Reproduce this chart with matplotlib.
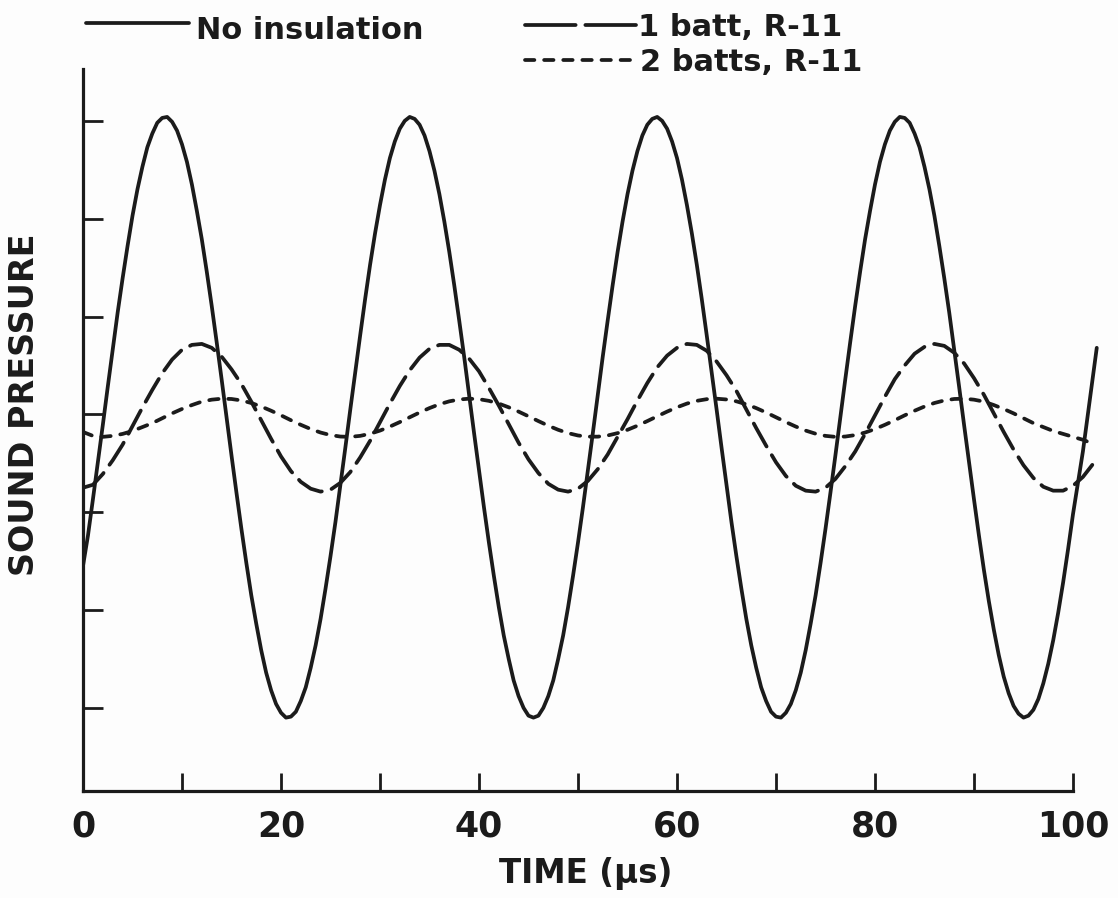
import matplotlib
matplotlib.use("Agg")
import matplotlib.pyplot as plt
from matplotlib.lines import Line2D
from matplotlib.ticker import FixedLocator, NullFormatter

# ---------------- data ----------------
# "No insulation" read every 0.5 us (large swing), the batt curves every 1 us
time_fine_us = [i * 0.5 for i in range(205)]
time_us = list(range(0, 103))

no_insulation = [
    -1.55, -1.24, -0.87, -0.49, -0.11, 0.28, 0.66, 1.04, 1.39, 1.72,
    2.03, 2.30, 2.53, 2.73, 2.87, 2.98, 3.03, 3.04, 2.99, 2.90,
    2.76, 2.58, 2.35, 2.08, 1.79, 1.46, 1.11, 0.74, 0.36, -0.03,
    -0.42, -0.80, -1.17, -1.52, -1.85, -2.14, -2.41, -2.64, -2.82, -2.96,
    -3.05, -3.10, -3.09, -3.04, -2.93, -2.79, -2.59, -2.36, -2.09, -1.78,
    -1.45, -1.10, -0.72, -0.34, 0.05, 0.43, 0.81, 1.18, 1.53, 1.85,
    2.14, 2.40, 2.62, 2.79, 2.92, 3.00, 3.04, 3.02, 2.96, 2.85,
    2.69, 2.49, 2.25, 1.97, 1.66, 1.32, 0.96, 0.59, 0.20, -0.19,
    -0.57, -0.95, -1.31, -1.65, -1.97, -2.26, -2.50, -2.72, -2.88, -3.00,
    -3.08, -3.10, -3.08, -3.00, -2.88, -2.72, -2.50, -2.26, -1.97, -1.65,
    -1.31, -0.95, -0.57, -0.19, 0.20, 0.59, 0.96, 1.32, 1.66, 1.97,
    2.25, 2.49, 2.69, 2.85, 2.96, 3.02, 3.04, 3.00, 2.92, 2.79,
    2.62, 2.40, 2.14, 1.85, 1.53, 1.18, 0.81, 0.43, 0.05, -0.34,
    -0.72, -1.10, -1.45, -1.78, -2.09, -2.36, -2.59, -2.79, -2.93, -3.04,
    -3.09, -3.10, -3.05, -2.96, -2.82, -2.64, -2.41, -2.14, -1.85, -1.52,
    -1.17, -0.80, -0.42, -0.03, 0.36, 0.74, 1.11, 1.46, 1.79, 2.08,
    2.35, 2.58, 2.76, 2.90, 2.99, 3.04, 3.03, 2.98, 2.87, 2.73,
    2.53, 2.30, 2.03, 1.72, 1.39, 1.04, 0.66, 0.28, -0.11, -0.49,
    -0.87, -1.24, -1.59, -1.91, -2.20, -2.46, -2.68, -2.85, -2.98, -3.06,
    -3.10, -3.08, -3.02, -2.91, -2.75, -2.55, -2.31, -2.03, -1.72, -1.38,
    -1.02, -0.70, -0.38, 0.00, 0.38,
]
no_insulation_end = (102.4, 0.68)

one_batt = [
    -0.75, -0.72, -0.61, -0.47, -0.31, -0.12, 0.07, 0.25, 0.42, 0.56,
    0.66, 0.71, 0.72, 0.68, 0.59, 0.46, 0.31, 0.13, -0.06, -0.25,
    -0.43, -0.58, -0.69, -0.76, -0.79, -0.77, -0.70, -0.59, -0.44, -0.27,
    -0.08, 0.11, 0.29, 0.45, 0.58, 0.67, 0.71, 0.71, 0.66, 0.57,
    0.44, 0.27, 0.09, -0.10, -0.29, -0.46, -0.60, -0.71, -0.77, -0.79,
    -0.76, -0.68, -0.56, -0.41, -0.23, -0.05, 0.14, 0.32, 0.48, 0.60,
    0.68, 0.72, 0.71, 0.65, 0.54, 0.40, 0.24, 0.05, -0.14, -0.32,
    -0.49, -0.63, -0.73, -0.78, -0.79, -0.75, -0.66, -0.53, -0.38, -0.20,
    -0.01, 0.18, 0.36, 0.50, 0.62, 0.69, 0.72, 0.70, 0.63, 0.52,
    0.37, 0.20, 0.01, -0.18, -0.36, -0.52, -0.65, -0.74, -0.78, -0.78,
    -0.73, -0.64, -0.51,
]
one_batt_end = (102.5, -0.46)

two_batts = [
    -0.18, -0.22, -0.23, -0.22, -0.20, -0.17, -0.13, -0.09, -0.04, 0.01,
    0.055, 0.095, 0.13, 0.15, 0.16, 0.157, 0.142, 0.116, 0.08, 0.037,
    -0.01, -0.06, -0.107, -0.15, -0.186, -0.212, -0.227, -0.23, -0.22, -0.198,
    -0.166, -0.125, -0.079, -0.03, 0.019, 0.064, 0.103, 0.133, 0.152, 0.16,
    0.155, 0.138, 0.11, 0.072, 0.028, -0.02, -0.069, -0.116, -0.158, -0.192,
    -0.216, -0.228, -0.228, -0.216, -0.192, -0.158, -0.116, -0.069, -0.02, 0.028,
    0.072, 0.11, 0.138, 0.155, 0.16, 0.152, 0.133, 0.103, 0.064, 0.019,
    -0.03, -0.079, -0.125, -0.166, -0.198, -0.22, -0.23, -0.227, -0.212, -0.186,
    -0.15, -0.107, -0.06, -0.01, 0.037, 0.08, 0.116, 0.142, 0.157, 0.16,
    0.15, 0.13, 0.095, 0.055, 0.01, -0.04, -0.09, -0.13, -0.17, -0.20,
    -0.23, -0.26, -0.30,
]

x_major = [0, 20, 40, 60, 80, 100]
x_minor = [10, 30, 50, 70, 90]
y_ticks = [-3, -2, -1, 0, 1, 2, 3]

series_labels = ["No insulation", "1 batt, R-11", "2 batts, R-11"]
x_label = "TIME (µs)"
y_label = "SOUND PRESSURE"

# ---------------- figure ----------------
W, H = 1118, 898
plt.rcParams["font.family"] = ["DejaVu Sans"]
plt.rcParams["font.weight"] = "bold"
ink = "#1b1b1b"

fig = plt.figure(figsize=(W / 100, H / 100), dpi=100)
fig.patch.set_facecolor("#fdfdfd")

# axes placed in pixel terms: x 0 -> 83 px, 9.9 px per us; y 0 -> 414.5 px, 97.9 px per unit
x0_px, px_per_us = 83, 9.9
xmax = 104
y_top, y_bot = 3.53, -3.85
ax_left = x0_px / W
ax_w = xmax * px_per_us / W
ax_bottom = (H - 791) / H
ax_h = (791 - 69) / H
ax = fig.add_axes([ax_left, ax_bottom, ax_w, ax_h])
ax.set_facecolor("none")

lw_solid = 2.7
lw_dash = 2.7
t_solid = time_fine_us + [no_insulation_end[0]]
ax.plot(t_solid, no_insulation + [no_insulation_end[1]], color=ink, lw=lw_solid,
        solid_capstyle="round", solid_joinstyle="round")
t_one = time_us + [one_batt_end[0]]
l1, = ax.plot(t_one, one_batt + [one_batt_end[1]], color=ink, lw=lw_dash,
              dash_capstyle="round", dash_joinstyle="round")
l1.set_dashes([7.0, 2.7])
l2, = ax.plot(time_us, two_batts, color=ink, lw=lw_dash, dash_capstyle="round",
              dash_joinstyle="round")
l2.set_dashes([2.5, 2.6])

ax.set_xlim(0, xmax)
ax.set_ylim(y_bot, y_top)

for side in ["top", "right"]:
    ax.spines[side].set_visible(False)
for side in ["left", "bottom"]:
    ax.spines[side].set_linewidth(2.3)
    ax.spines[side].set_color(ink)
    ax.spines[side].set_capstyle("projecting")
ax.spines["bottom"].set_bounds(0, 100)

ax.xaxis.set_major_locator(FixedLocator(x_major))
ax.xaxis.set_minor_locator(FixedLocator(x_minor))
ax.xaxis.set_minor_formatter(NullFormatter())
ax.yaxis.set_major_locator(FixedLocator(y_ticks))
ax.set_yticklabels([])
ax.tick_params(axis="x", which="both", direction="in", length=13, width=2.0,
               color=ink)
ax.tick_params(axis="y", which="both", direction="in", length=14.5, width=2.0,
               color=ink)
ax.tick_params(axis="x", which="major", pad=13, labelsize=25, labelcolor=ink)
for lab in ax.get_xticklabels():
    lab.set_fontweight("bold")

ax.set_xlabel(x_label, fontsize=23.5, fontweight="bold", color=ink)
ax.xaxis.set_label_coords((586 - x0_px) / (xmax * px_per_us), (791 - 857) / (791 - 69))
ax.set_ylabel(y_label, fontsize=24, fontweight="bold", color=ink)
ax.yaxis.set_label_coords((41 - x0_px) / (xmax * px_per_us), (791 - 405) / (791 - 69))

# ---------------- legend (hand-placed like the original) ----------------
def fx(px):
    return px / W

def fy(py):
    return 1 - py / H

leg_fs = 22
fig.add_artist(Line2D([fx(86), fx(189)], [fy(23), fy(23)], transform=fig.transFigure,
                      color=ink, lw=lw_solid, solid_capstyle="round"))
fig.text(fx(196), fy(39), series_labels[0], fontsize=leg_fs, fontweight="bold",
         color=ink, va="baseline", ha="left")

lg1 = Line2D([fx(525), fx(636)], [fy(25), fy(25)], transform=fig.transFigure,
             color=ink, lw=lw_dash, dash_capstyle="round")
lg1.set_dashes([13.5, 2.6])
fig.add_artist(lg1)
fig.text(fx(638), fy(36), series_labels[1], fontsize=leg_fs, fontweight="bold",
         color=ink, va="baseline", ha="left")

lg2 = Line2D([fx(525), fx(636)], [fy(60), fy(60)], transform=fig.transFigure,
             color=ink, lw=lw_dash, dash_capstyle="round")
lg2.set_dashes([2.5, 2.6])
fig.add_artist(lg2)
fig.text(fx(640), fy(71), series_labels[2], fontsize=leg_fs, fontweight="bold",
         color=ink, va="baseline", ha="left")

fig.savefig("out.png", dpi=100, facecolor=fig.get_facecolor())
